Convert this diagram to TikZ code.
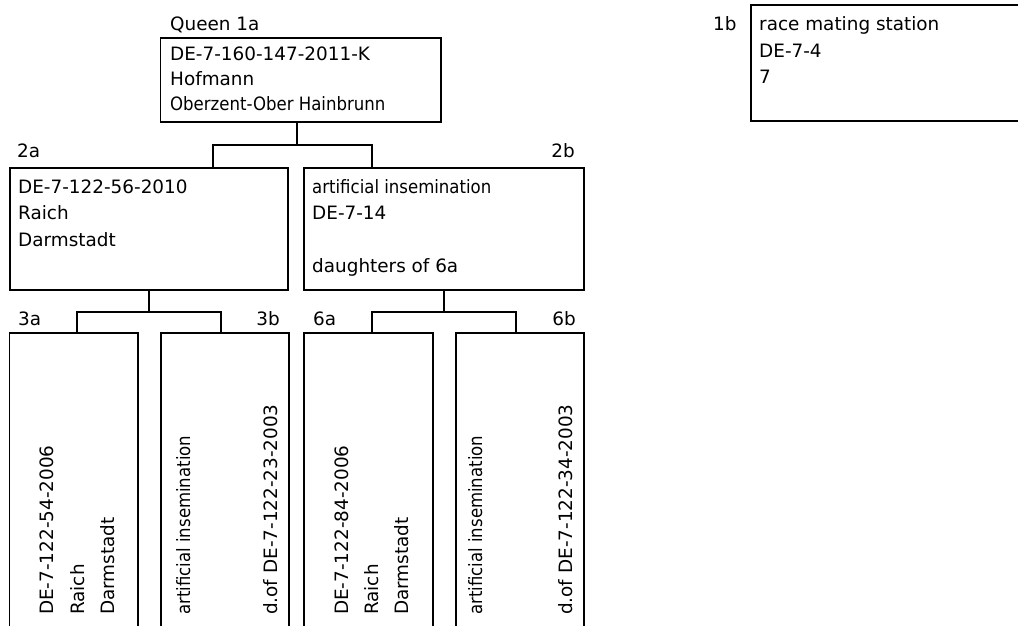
\documentclass[tikz,border=0pt]{standalone}
\usepackage{fontspec}
\setmainfont{DejaVu Sans}
\newfontfamily\cond{DejaVu Sans Condensed}
\begin{document}
\begin{tikzpicture}[x=1pt,y=-1pt,
  box/.style={draw, line width=1.2pt, rectangle, inner sep=0pt, outer sep=0pt, anchor=north west},
  lbl/.style={inner sep=0pt, anchor=base west, font=\fontsize{18.4}{21}\selectfont},
  lblr/.style={lbl, anchor=base east},
  vt/.style={lbl, rotate=90},
  wire/.style={line width=1.2pt}]
\useasboundingbox (0,0) rectangle (1018,625);
\clip (0,0) rectangle (1018,625);
% boxes
\node[box, minimum width=280.5pt, minimum height=84pt] (b1a) at (160.5,38) {};
\node[box, minimum width=290pt, minimum height=116pt] (b1b) at (751,5) {};
\node[box, minimum width=278pt, minimum height=122pt] (b2a) at (10,168) {};
\node[box, minimum width=280pt, minimum height=122pt] (b2b) at (304,168) {};
\node[box, minimum width=128.5pt, minimum height=320pt] (b3a) at (9.5,333) {};
\node[box, minimum width=128pt, minimum height=320pt] (b3b) at (161,333) {};
\node[box, minimum width=129pt, minimum height=320pt] (b6a) at (304,333) {};
\node[box, minimum width=128pt, minimum height=320pt] (b6b) at (456,333) {};
% connection points
\coordinate (c1a) at (297,122);
\coordinate (j1) at (297,145);
\coordinate (p2a) at (213,168);
\coordinate (p2b) at (372,168);
\coordinate (j2a) at (149,312);
\coordinate (p3a) at (77,333);
\coordinate (p3b) at (221,333);
\coordinate (j2b) at (444,312);
\coordinate (p6a) at (372,333);
\coordinate (p6b) at (516,333);
\draw[wire] (c1a) -- (j1);
\draw[wire] (p2a) |- (j1) -| (p2b);
\draw[wire] (b2a.south) -- (j2a);
\draw[wire] (p3a) |- (j2a) -| (p3b);
\draw[wire] (b2b.south) -- (j2b);
\draw[wire] (p6a) |- (j2b) -| (p6b);
% labels
\node[lbl] (l1a) at (170,30) {Queen 1a};
\node[lbl] (t1a1) at (170,60) {DE-7-160-147-2011-K};
\node[lbl] (t1a2) at (170,85) {Hofmann};
\node[lbl] (t1a3) at (170,110) {\cond Oberzent-Ober Hainbrunn};
\node[lbl] (l1b) at (713,30) {1b};
\node[lbl] (t1b1) at (759,30.5) {race mating station};
\node[lbl] (t1b2) at (759,57) {DE-7-4};
\node[lbl] (t1b3) at (759,83.5) {7};
\node[lbl] (l2a) at (17,157) {2a};
\node[lbl] (t2a1) at (18,193) {DE-7-122-56-2010};
\node[lbl] (t2a2) at (18,219.5) {Raich};
\node[lbl] (t2a3) at (18,246) {Darmstadt};
\node[lblr] (l2b) at (575,157) {2b};
\node[lbl] (t2b1) at (312,193) {\cond artificial insemination};
\node[lbl] (t2b2) at (312,219.5) {DE-7-14};
\node[lbl] (t2b3) at (312,272.5) {daughters of 6a};
\node[lbl] (l3a) at (18,325) {3a};
\node[lblr] (l3b) at (280,325) {3b};
\node[lbl] (l6a) at (313,325) {6a};
\node[lblr] (l6b) at (576,325) {6b};
% vertical texts
\node[vt] (t3a1) at (53,615) {DE-7-122-54-2006};
\node[vt] (t3a2) at (84,615) {Raich};
\node[vt] (t3a3) at (114,615) {Darmstadt};
\node[vt] (t3b1) at (190,615) {\cond artificial insemination};
\node[vt] (t3b2) at (277,615) {d.of DE-7-122-23-2003};
\node[vt] (t6a1) at (348,615) {DE-7-122-84-2006};
\node[vt] (t6a2) at (378,615) {Raich};
\node[vt] (t6a3) at (408,615) {Darmstadt};
\node[vt] (t6b1) at (482,615) {\cond artificial insemination};
\node[vt] (t6b2) at (572,615) {d.of DE-7-122-34-2003};
\end{tikzpicture}
\end{document}
